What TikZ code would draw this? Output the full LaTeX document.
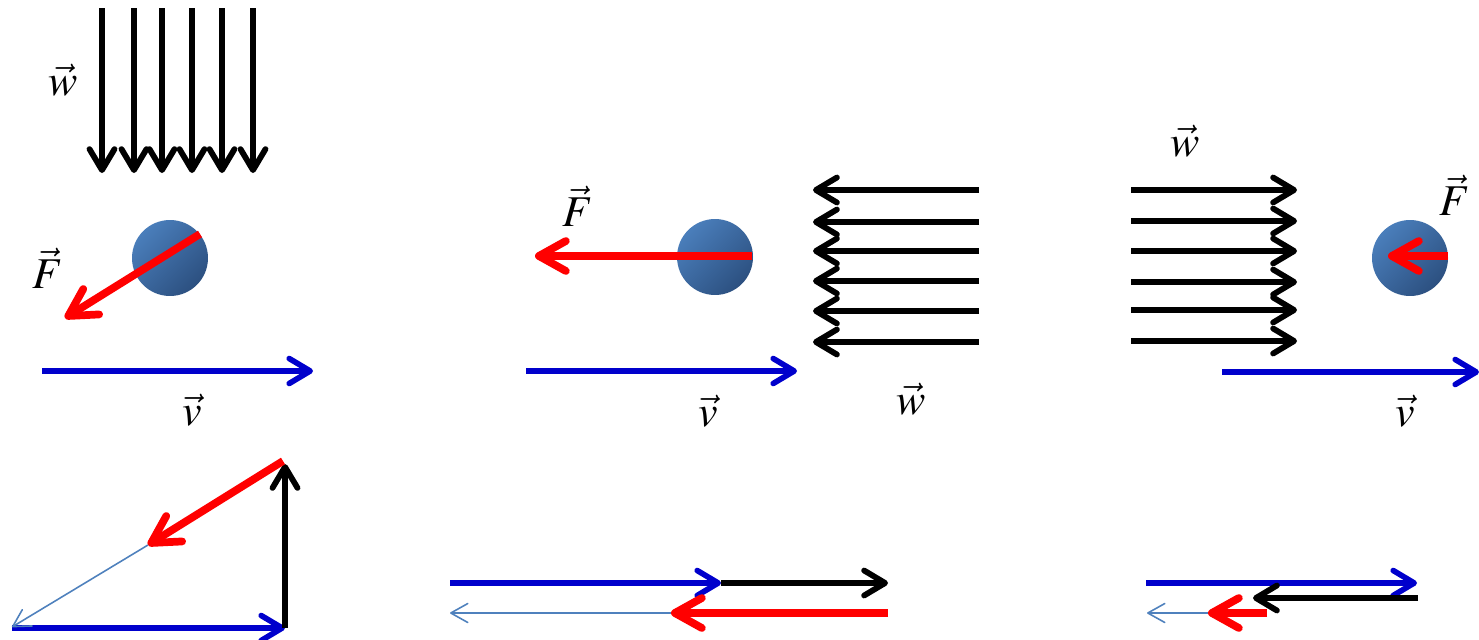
\documentclass[tikz,border=0pt]{standalone}
\usepackage{mathptmx}
\usetikzlibrary{arrows.meta}
\definecolor{ballhi}{RGB}{74,126,187}
\definecolor{balllo}{RGB}{44,80,128}
\definecolor{vblue}{RGB}{0,0,204}
\definecolor{thinblue}{RGB}{79,129,189}
\tikzset{
  ball/.style   ={circle, minimum size=1.52cm, inner sep=0pt,
                  top color=ballhi, bottom color=balllo, shading angle=45},
  lbl/.style    ={inner sep=0pt, font=\fontsize{25}{30}\selectfont},
  windarr/.style={-{Straight Barb[length=4.2mm, width=5mm, round]},
                  line width=3.3pt, black},
  varr/.style   ={-{Straight Barb[length=4.2mm, width=5mm, round]},
                  line width=3.2pt, vblue},
  farr/.style   ={-{Straight Barb[length=5.4mm, width=6mm, round]},
                  line width=4.4pt, red},
  thinarr/.style={-{Straight Barb[length=3.4mm, width=3.8mm, round]},
                  line width=0.9pt, thinblue}
}
\begin{document}
\begin{tikzpicture}[x=0.02cm, y=-0.02cm]
    \useasboundingbox (0,0) rectangle (1479,639);
    % left: wind from above
    \foreach \wx [count=\i] in {102,134,162,192,222,253} {
      \coordinate (wa\i) at (\wx,8);
      \coordinate (wb\i) at (\wx,173);
      \draw[windarr] (wa\i) -- (wb\i);
    }
    \node[lbl] (w1) at (63,80) {$\vec{w}$};
    \node[ball] (b1) at (170,258) {};
    \coordinate (f1s) at (200,234);
    \coordinate (f1e) at (65,318);
    \draw[farr] (f1s) -- (f1e);
    \node[lbl] (fl1) at (48,268) {$\vec{F}$};
    \coordinate (v1s) at (42,371);
    \coordinate (v1e) at (313,371);
    \draw[varr] (v1s) -- (v1e);
    \node[lbl] (vl1) at (192,410) {$\vec{v}$};
    % left: sum
    \coordinate (t1a) at (12,628);
    \coordinate (t1b) at (285,628);
    \coordinate (t1c) at (285,464);
    \coordinate (t1d) at (283,461);
    \coordinate (t1e) at (148,545);
    \coordinate (t1f) at (12,627);
    \draw[varr] (t1a) -- (t1b);
    \draw[windarr] (t1b) -- (t1c);
    \draw[farr] (t1d) -- (t1e);
    \draw[thinarr] (t1e) -- (t1f);

    % middle: head wind
    \node[ball] (b2) at (715,257) {};
    \coordinate (f2s) at (752,256);
    \coordinate (f2e) at (535,256);
    \draw[farr] (f2s) -- (f2e);
    \node[lbl] (fl2) at (578,206) {$\vec{F}$};
    \coordinate (v2s) at (526,371);
    \coordinate (v2e) at (797,371);
    \draw[varr] (v2s) -- (v2e);
    \node[lbl] (vl2) at (708,411) {$\vec{v}$};
    \foreach \wy [count=\i] in {190,222,251,281,311,342} {
      \coordinate (ma\i) at (979,\wy);
      \coordinate (mb\i) at (813,\wy);
      \draw[windarr] (ma\i) -- (mb\i);
    }
    \node[lbl] (w2) at (911,399) {$\vec{w}$};
    % middle: sum
    \coordinate (t2a) at (450,583);
    \coordinate (t2b) at (721,583);
    \coordinate (t2c) at (888,583);
    \coordinate (t2d) at (888,613);
    \coordinate (t2e) at (671,613);
    \coordinate (t2f) at (450,613);
    \draw[varr] (t2a) -- (t2b);
    \draw[windarr] (t2b) -- (t2c);
    \draw[farr] (t2d) -- (t2e);
    \draw[thinarr] (t2e) -- (t2f);

    % right: tail wind
    \foreach \wy [count=\i] in {190,221,251,282,310,341} {
      \coordinate (ra\i) at (1131,\wy);
      \coordinate (rb\i) at (1297,\wy);
      \draw[windarr] (ra\i) -- (rb\i);
    }
    \node[lbl] (w3) at (1185,141) {$\vec{w}$};
    \node[ball] (b3) at (1410,258) {};
    \coordinate (f3s) at (1448,256);
    \coordinate (f3e) at (1388,256);
    \draw[farr] (f3s) -- (f3e);
    \node[lbl] (fl3) at (1455,195) {$\vec{F}$};
    \coordinate (v3s) at (1222,372);
    \coordinate (v3e) at (1479,372);
    \draw[varr] (v3s) -- (v3e);
    \node[lbl] (vl3) at (1405,411) {$\vec{v}$};
    % right: sum
    \coordinate (t3a) at (1146,583);
    \coordinate (t3b) at (1417,583);
    \coordinate (t3c) at (1418,598);
    \coordinate (t3d) at (1253,598);
    \coordinate (t3e) at (1267,613);
    \coordinate (t3f) at (1208,613);
    \coordinate (t3g) at (1147,613);
    \draw[varr] (t3a) -- (t3b);
    \draw[windarr] (t3c) -- (t3d);
    \draw[farr] (t3e) -- (t3f);
    \draw[thinarr] (t3f) -- (t3g);
  \end{tikzpicture}
\end{document}
